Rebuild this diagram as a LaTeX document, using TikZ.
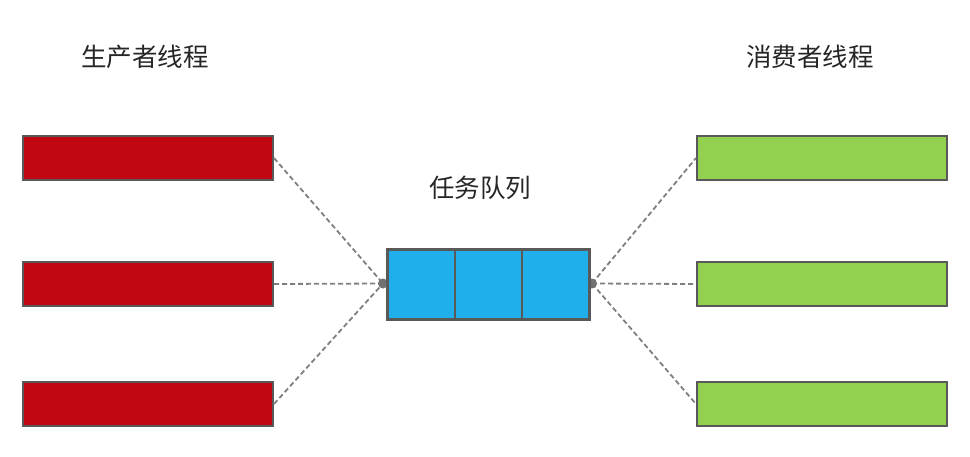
\documentclass[tikz,border=0pt]{standalone}
\usepackage{fontspec}
\newfontfamily\cjk{Noto Sans CJK SC}
\definecolor{prodred}{HTML}{C00712}
\definecolor{consgreen}{HTML}{92D050}
\definecolor{qblue}{HTML}{1FB0EC}
\definecolor{edge}{HTML}{595959}
\definecolor{link}{HTML}{7F7F7F}
\tikzset{
  thread/.style={draw=edge, line width=2pt, minimum width=250pt, minimum height=44pt, inner sep=0pt, anchor=north west},
  cell/.style={draw=edge, line width=2.2pt, fill=qblue, minimum width=67pt, minimum height=69pt, inner sep=0pt, anchor=north west},
  conn/.style={draw=link, line width=1.8pt, dash pattern=on 5pt off 3pt},
  lbl/.style={font=\cjk\fontsize{25.5}{30}\selectfont, text=black!85, inner sep=0pt},
  hub/.style={circle, fill=link!90!black, minimum size=10pt, inner sep=0pt}
}
\begin{document}
\begin{tikzpicture}[x=1pt,y=-1pt]
\useasboundingbox (0,0) rectangle (970,456);
\node[lbl] (ptitle) at (145,57) {生产者线程};
\node[lbl] (ctitle) at (810,57) {消费者线程};
\node[lbl] (qtitle) at (480,188) {任务队列};
\node[thread, fill=prodred] (p1) at (22,135) {};
\node[thread, fill=prodred] (p2) at (22,261) {};
\node[thread, fill=prodred] (p3) at (22,381) {};
\node[thread, fill=consgreen] (c1) at (696,135) {};
\node[thread, fill=consgreen] (c2) at (696,261) {};
\node[thread, fill=consgreen] (c3) at (696,381) {};
\coordinate (lhub) at (383,283.5);
\coordinate (rhub) at (592,283.5);
\draw[conn] (p1.east) -- (lhub);
\draw[conn] (p2.east) -- (lhub);
\draw[conn] (p3.east) -- (lhub);
\draw[conn] (rhub) -- (c1.west);
\draw[conn] (rhub) -- (c2.west);
\draw[conn] (rhub) -- (c3.west);
\node[hub] (lh) at (lhub) {};
\node[hub] (rh) at (rhub) {};
\node[cell] (q1) at (387,249) {};
\node[cell] (q2) at (454,249) {};
\node[cell] (q3) at (521,249) {};
\draw[edge, line width=2.2pt] (q1.north west) rectangle (q3.south east);
\end{tikzpicture}
\end{document}
